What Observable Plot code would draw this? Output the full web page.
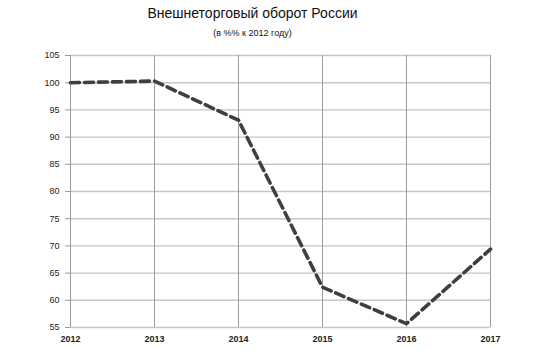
<!DOCTYPE html>
<html>
<head>
<meta charset="utf-8">
<script src="https://cdn.jsdelivr.net/npm/d3@7"></script>
<script src="https://cdn.jsdelivr.net/npm/@observablehq/plot@0.6"></script>
<style>
  html, body { margin: 0; padding: 0; background: #fff; }
  body { width: 557px; height: 350px; overflow: hidden; font-family: "Liberation Sans", Arial, sans-serif; }
  #title { height: 26px; line-height: 27px; text-align: center; font-size: 14px; color: #111; padding-right: 52px; }
  #subtitle { height: 16px; line-height: 14px; text-align: center; font-size: 9px; color: #111; padding-right: 52px; }
</style>
</head>
<body>
<div id="title">Внешнеторговый оборот России</div>
<div id="subtitle">(в %% к 2012 году)</div>
<div id="chart"></div>
<script>
const years = [2012, 2013, 2014, 2015, 2016, 2017];
const values = [100, 100.3, 93.1, 62.4, 55.7, 69.4];
const yTicks = [55, 60, 65, 70, 75, 80, 85, 90, 95, 100, 105];

const data = years.map((y, i) => ({year: y, value: values[i]}));

const chart = Plot.plot({
  width: 557,
  height: 308,
  marginTop: 13,
  marginBottom: 23,
  marginLeft: 70,
  marginRight: 67,
  style: {fontFamily: "Liberation Sans, Arial, sans-serif", fontSize: "9px", color: "#222"},
  x: {domain: [2012, 2017], ticks: years, tickFormat: "d", label: null},
  y: {domain: [55, 105], ticks: yTicks, label: null},
  marks: [
    Plot.gridY(yTicks, {stroke: "#c6c6c6", strokeOpacity: 1, strokeWidth: 1.4}),
    Plot.gridX(years, {stroke: "#9c9c9c", strokeOpacity: 1, strokeWidth: 1}),
    Plot.ruleX([2012], {stroke: "#999", strokeWidth: 1}),
    Plot.axisY(yTicks, {tickSize: 5, tickPadding: 6, stroke: "#999", fontSize: 9}),
    Plot.axisX(years, {tickSize: 0, tickPadding: 8, tickFormat: "d", fontWeight: "bold", fontSize: 9}),
    Plot.line(data, {x: "year", y: "value", stroke: "#3f3f3f", strokeWidth: 3.6, strokeDasharray: "9,5", strokeLinejoin: "round", curve: "linear"})
  ]
});
document.getElementById("chart").appendChild(chart);
</script>
</body>
</html>
